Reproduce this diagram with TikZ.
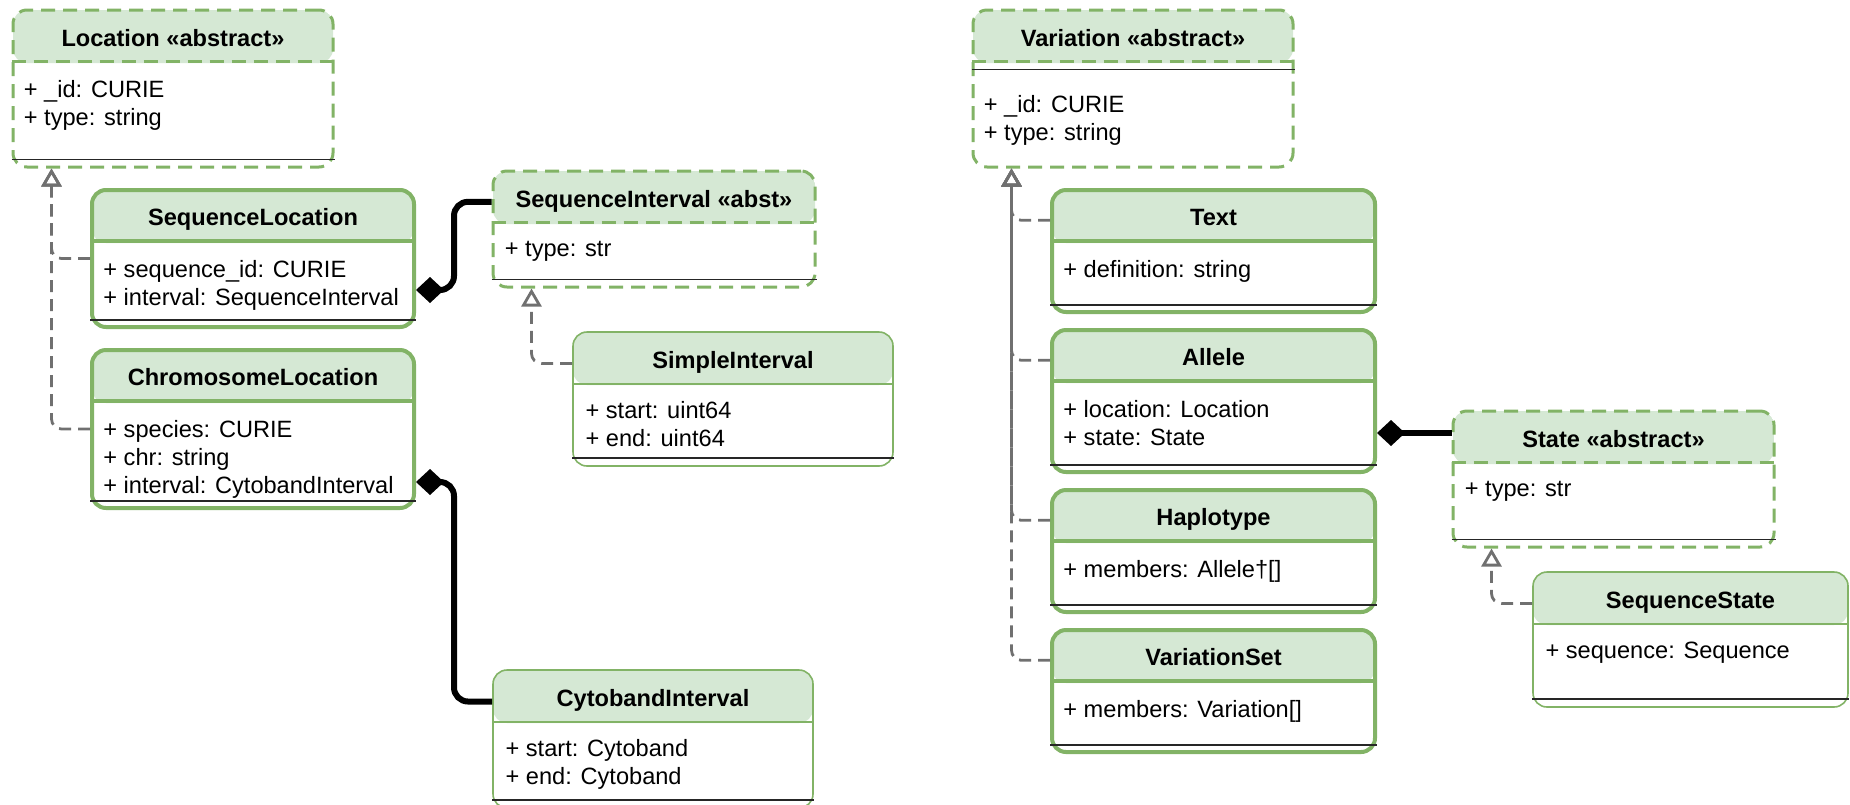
\documentclass[tikz,border=0pt]{standalone}
\usepackage{fontspec}
\setmainfont{Liberation Sans}
\usetikzlibrary{arrows.meta,fit}

\definecolor{umlgreen}{HTML}{82B366}
\definecolor{hdrgreen}{HTML}{D5E8D4}
\definecolor{gengray}{HTML}{707070}

\tikzset{
  box/.style={fit={#1}, inner sep=0pt, fill=white, rounded corners=7pt,
    path picture={\fill[hdrgreen] (path picture bounding box.north west)
      rectangle ([yshift=-26.5pt]path picture bounding box.north east);}},
  concrete/.style={draw=umlgreen, line width=2pt},
  plain/.style={draw=umlgreen, line width=0.8pt},
  abstract/.style={draw=umlgreen, line width=1.5pt, dash pattern=on 7pt off 4pt},
  attrline/.style={draw=black!85, line width=0.9pt},
  title/.style={font=\fontsize{11.8pt}{14pt}\selectfont\bfseries, inner sep=0pt, anchor=base},
  attr/.style={font=\fontsize{11.8pt}{14pt}\selectfont, inner sep=0pt, anchor=base west},
  gen/.style={draw=gengray, line width=1.4pt, dash pattern=on 6pt off 3.5pt, rounded corners=5pt,
    -{Triangle[open, length=9pt, width=10pt]}},
  comp/.style={draw=black, line width=3pt, rounded corners=7pt,
    {Diamond[length=14pt, width=13pt]}-}
}

\begin{document}
\begin{tikzpicture}[x=0.5pt, y=-0.5pt]
  \useasboundingbox (0,0) rectangle (1850,804);
  \clip (0,0) rectangle (1850,804);

  % left half
  \node[box={(13,10) (333,167)}, abstract] (loc) {};
  \node[box={(92,190) (414,327)}, concrete] (seqloc) {};
  \node[box={(92,350) (414,508)}, concrete] (chrloc) {};
  \node[box={(493,171) (815,287)}, abstract] (seqint) {};
  \node[box={(573,332) (893,466)}, plain] (simpleint) {};
  \node[box={(493,670) (813,808)}, plain] (cytoint) {};

  % right half
  \node[box={(973,10) (1293,167)}, abstract] (var) {};
  \node[box={(1052,190) (1375,312)}, concrete] (text) {};
  \node[box={(1052,330) (1375,472)}, concrete] (allele) {};
  \node[box={(1052,490) (1375,612)}, concrete] (haplo) {};
  \node[box={(1052,630) (1375,752)}, concrete] (varset) {};
  \node[box={(1453,411) (1774,547)}, abstract] (state) {};
  \node[box={(1533,572) (1848,707)}, plain] (seqstate) {};

  % header separators
  \foreach \c in {seqloc,chrloc,text,allele,haplo,varset}
    \draw[concrete] ([yshift=-26.5pt]\c.north west) -- ([yshift=-26.5pt]\c.north east);
  \foreach \c in {simpleint,cytoint,seqstate}
    \draw[plain] ([yshift=-26.5pt]\c.north west) -- ([yshift=-26.5pt]\c.north east);
  \foreach \c in {loc,seqint,var,state}
    \draw[abstract] ([yshift=-26.5pt]\c.north west) -- ([yshift=-26.5pt]\c.north east);

  % attribute lines
  \foreach \c in {loc,seqloc,chrloc,seqint,simpleint,cytoint,text,allele,haplo,varset,state,seqstate}
    \draw[attrline] ([yshift=4.5pt]\c.south west) -- ([yshift=4.5pt]\c.south east);
  \draw[attrline] ([yshift=-30.5pt]var.north west) -- ([yshift=-30.5pt]var.north east);

  % titles
  \node[title] (loc-t) at ([yshift=-18.8pt]loc.north) {Location «abstract»};
  \node[title] (seqloc-t) at ([yshift=-18.8pt]seqloc.north) {SequenceLocation};
  \node[title] (chrloc-t) at ([yshift=-18.8pt]chrloc.north) {ChromosomeLocation};
  \node[title] (seqint-t) at ([yshift=-18.8pt]seqint.north) {SequenceInterval «abst»};
  \node[title] (simpleint-t) at ([yshift=-18.8pt]simpleint.north) {SimpleInterval};
  \node[title] (cytoint-t) at ([yshift=-18.8pt]cytoint.north) {CytobandInterval};
  \node[title] (var-t) at ([yshift=-18.8pt]var.north) {Variation «abstract»};
  \node[title] (text-t) at ([yshift=-18.8pt]text.north) {Text};
  \node[title] (allele-t) at ([yshift=-18.8pt]allele.north) {Allele};
  \node[title] (haplo-t) at ([yshift=-18.8pt]haplo.north) {Haplotype};
  \node[title] (varset-t) at ([yshift=-18.8pt]varset.north) {VariationSet};
  \node[title] (state-t) at ([yshift=-18.8pt]state.north) {State «abstract»};
  \node[title] (seqstate-t) at ([yshift=-18.8pt]seqstate.north) {SequenceState};

  % attributes
  \foreach \a [count=\i] in {{+ \_id: CURIE},{+ type: string}}
    \node[attr] (loc-a\i) at ([xshift=6pt, yshift={-44.5pt-14pt*(\i-1)}]loc.north west) {\a};
  \foreach \a [count=\i] in {{+ sequence\_id: CURIE},{+ interval: SequenceInterval}}
    \node[attr] (seqloc-a\i) at ([xshift=6.5pt, yshift={-44.5pt-14pt*(\i-1)}]seqloc.north west) {\a};
  \foreach \a [count=\i] in {{+ species: CURIE},{+ chr: string},{+ interval: CytobandInterval}}
    \node[attr] (chrloc-a\i) at ([xshift=6.5pt, yshift={-44.5pt-14pt*(\i-1)}]chrloc.north west) {\a};
  \node[attr] (seqint-a1) at ([xshift=6.5pt, yshift=-43.5pt]seqint.north west) {+ type: str};
  \foreach \a [count=\i] in {{+ start: uint64},{+ end: uint64}}
    \node[attr] (simpleint-a\i) at ([xshift=6.5pt, yshift={-43.5pt-14pt*(\i-1)}]simpleint.north west) {\a};
  \foreach \a [count=\i] in {{+ start: Cytoband},{+ end: Cytoband}}
    \node[attr] (cytoint-a\i) at ([xshift=6.5pt, yshift={-43.5pt-14pt*(\i-1)}]cytoint.north west) {\a};
  \foreach \a [count=\i] in {{+ \_id: CURIE},{+ type: string}}
    \node[attr] (var-a\i) at ([xshift=6pt, yshift={-52pt-14pt*(\i-1)}]var.north west) {\a};
  \node[attr] (text-a1) at ([xshift=6.5pt, yshift=-44.5pt]text.north west) {+ definition: string};
  \foreach \a [count=\i] in {{+ location: Location},{+ state: State}}
    \node[attr] (allele-a\i) at ([xshift=6.5pt, yshift={-44.5pt-14pt*(\i-1)}]allele.north west) {\a};
  \node[attr] (haplo-a1) at ([xshift=6.5pt, yshift=-44.5pt]haplo.north west) {+ members: Allele†[]};
  \node[attr] (varset-a1) at ([xshift=6.5pt, yshift=-44.5pt]varset.north west) {+ members: Variation[]};
  \node[attr] (state-a1) at ([xshift=6.5pt, yshift=-43.5pt]state.north west) {+ type: str};
  \node[attr] (seqstate-a1) at ([xshift=6.5pt, yshift=-43.5pt]seqstate.north west) {+ sequence: Sequence};

  % generalizations
  \draw[gen] (seqloc.west) -| ([xshift=20pt]loc.south west);
  \draw[gen] (chrloc.west) -| ([xshift=20pt]loc.south west);
  \draw[gen] (simpleint.west |- simpleint-t.mid) -| ([xshift=20pt]seqint.south west);
  \foreach \c in {text,allele,haplo,varset}
    \draw[gen] (\c.west |- \c-t.mid) -| ([xshift=20pt]var.south west);
  \draw[gen] (seqstate.west |- seqstate-t.mid) -| ([xshift=20pt]state.south west);

  % compositions
  \coordinate (seqloc-c) at ([yshift=-51pt]seqloc.north east);
  \coordinate (chrloc-c) at ([yshift=-67pt]chrloc.north east);
  \coordinate (allele-c) at ([yshift=-52.5pt]allele.north east);
  \draw[comp] (seqloc-c) -- ++(19pt,0) |- (seqint.west |- seqint-t.mid);
  \draw[comp] (chrloc-c) -- ++(19pt,0) |- (cytoint.west |- cytoint-t.mid);
  \draw[comp] (allele-c) -- (allele-c -| state.west);
\end{tikzpicture}
\end{document}
